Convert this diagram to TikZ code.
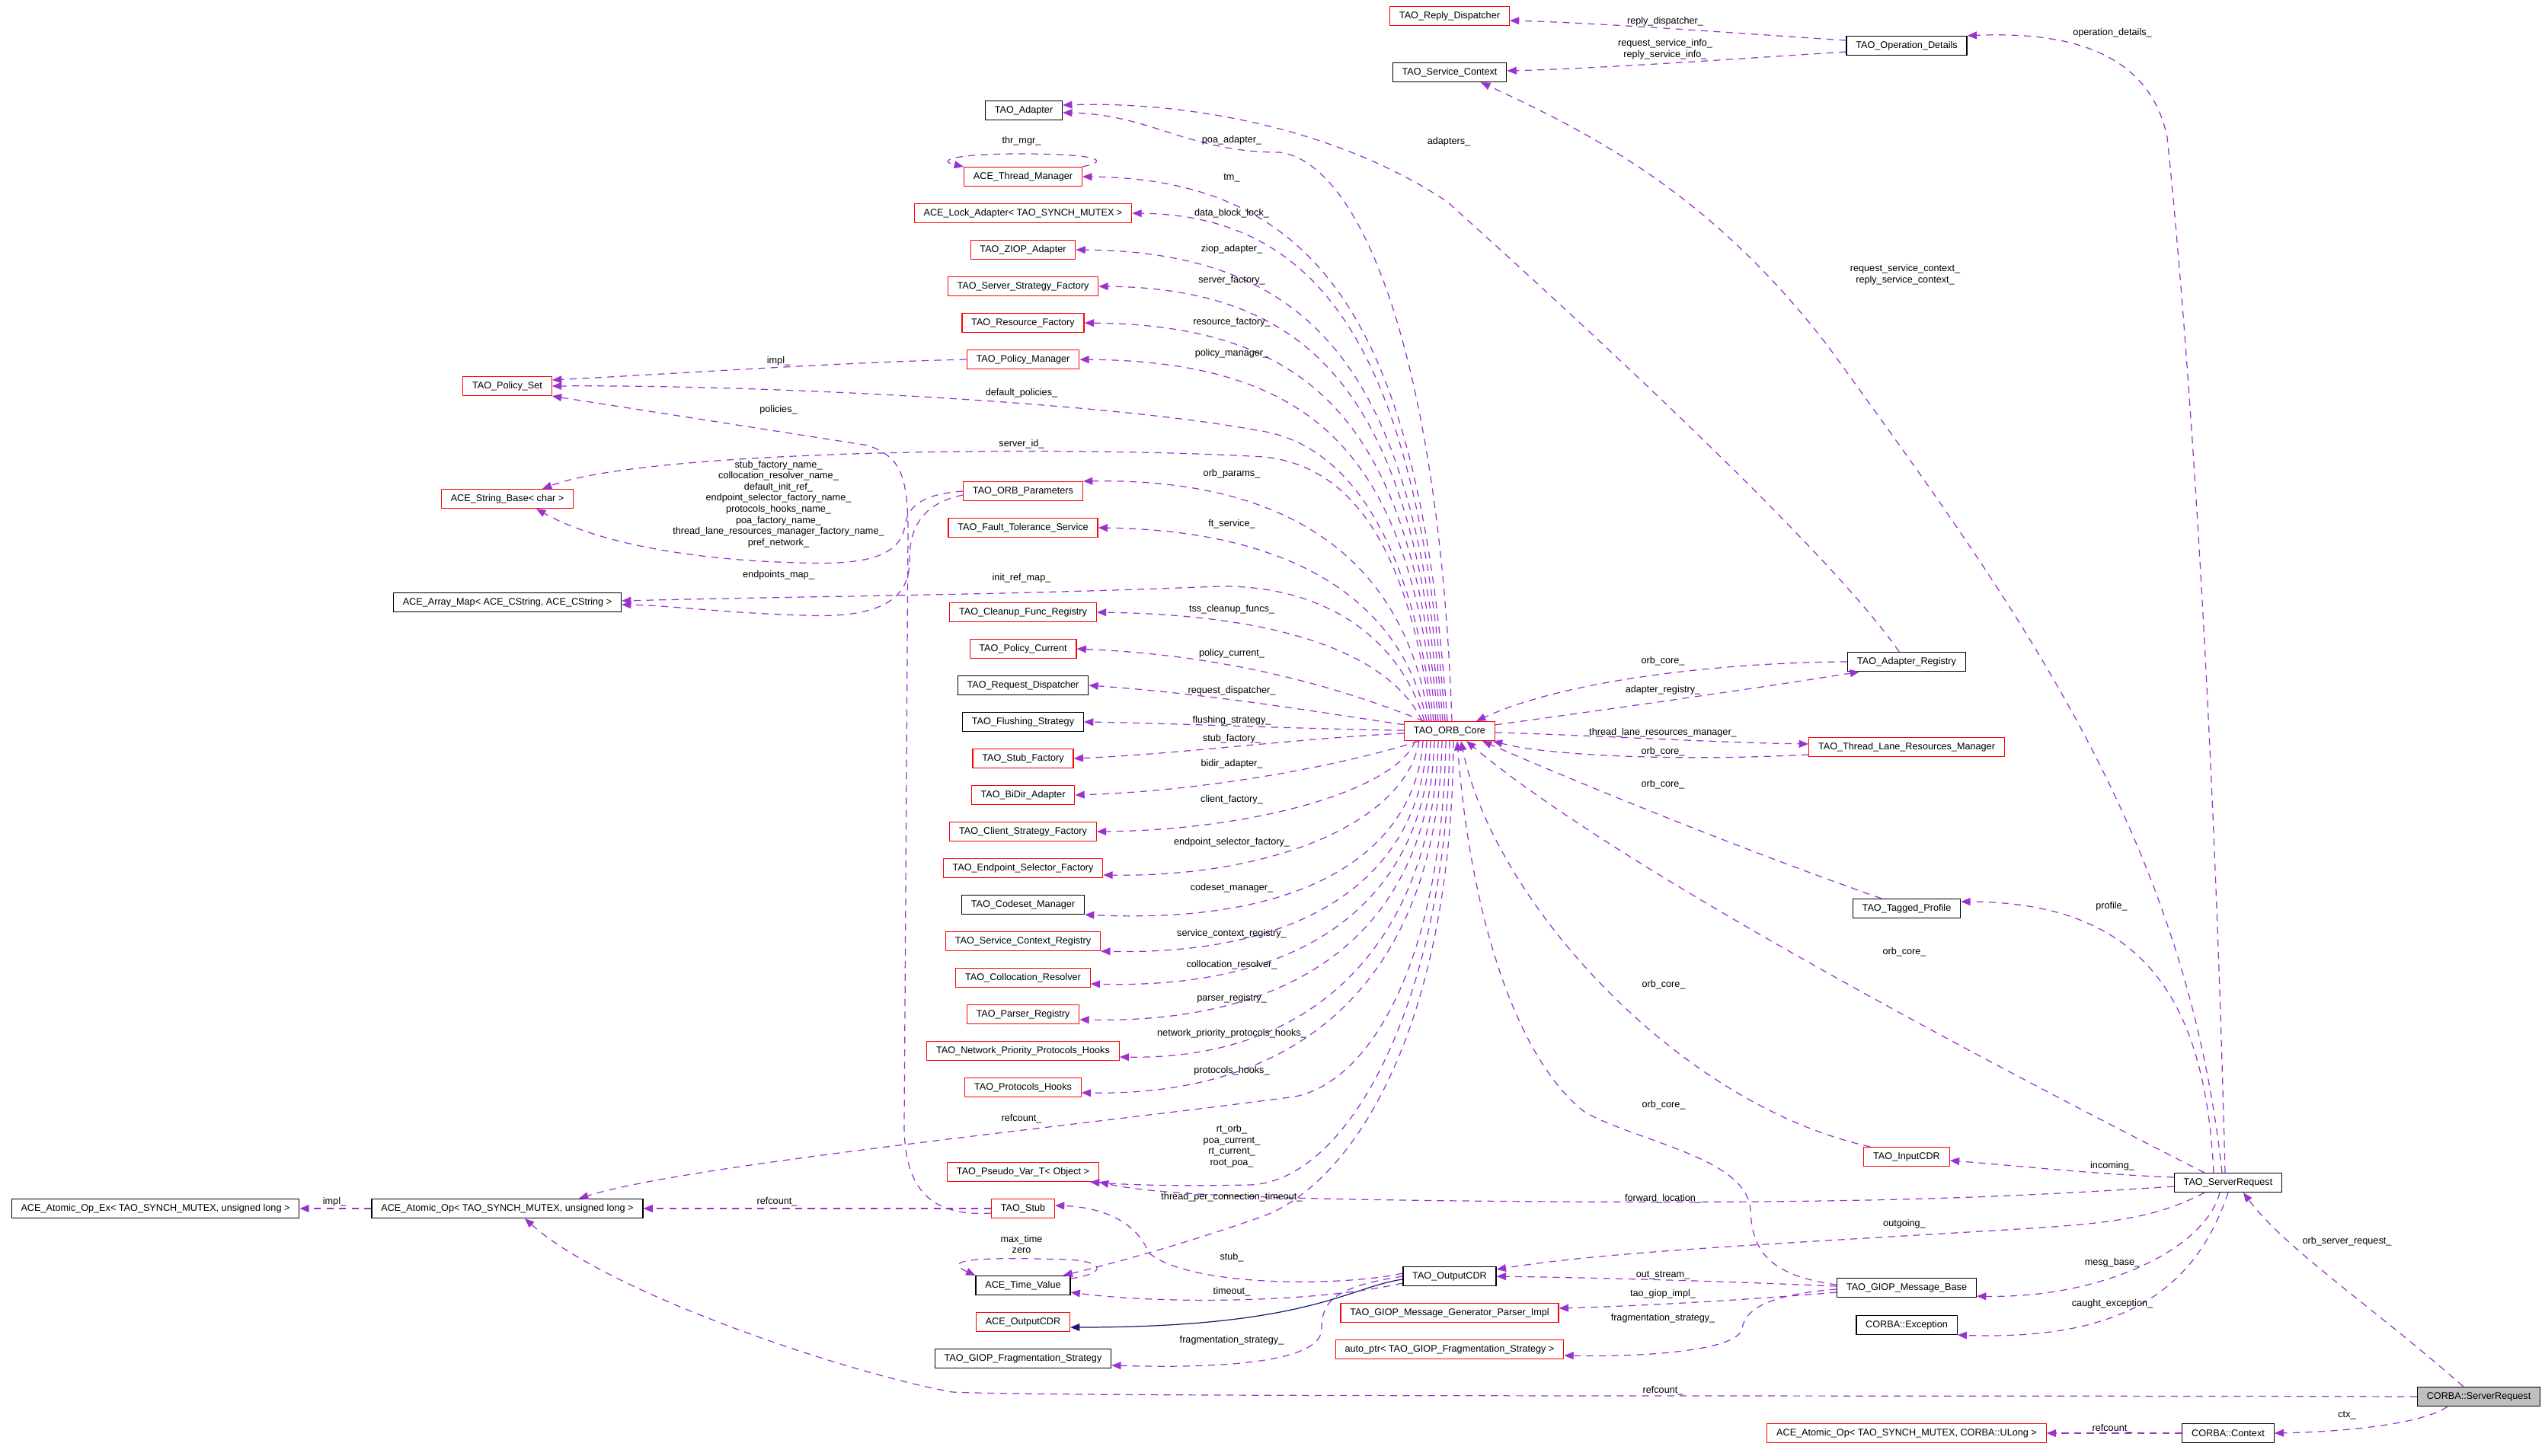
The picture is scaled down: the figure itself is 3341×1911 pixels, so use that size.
\documentclass[tikz,border=0pt]{standalone}
\usepackage{fontspec}
\setmainfont{Liberation Sans}
\usetikzlibrary{arrows.meta,calc}
\definecolor{DoxPurple}{HTML}{9A32CD}
\definecolor{DoxRed}{HTML}{FF0000}
\definecolor{DoxBlue}{HTML}{191970}
\definecolor{DoxGray}{HTML}{BFBFBF}
\tikzset{
 cls/.style={draw=black,fill=white,line width=0.35pt,font=\fontsize{3.6}{4.15}\selectfont,
   inner xsep=3.5pt,inner ysep=0pt,minimum height=0.25cm},
 redcls/.style={cls,draw=DoxRed},
 rootcls/.style={cls,fill=DoxGray},
 dep/.style={draw=DoxPurple,line width=0.35pt,dash pattern=on 2.6pt off 2.1pt,
   -{Triangle[length=3.5pt,width=2.8pt]}},
 inh/.style={draw=DoxBlue,line width=0.35pt,-{Triangle[length=3.5pt,width=2.8pt]}},
 lbl/.style={font=\fontsize{3.6}{4.15}\selectfont,inner sep=0pt,align=center}
}
\begin{document}
\begin{tikzpicture}[x=0.01cm,y=-0.01cm]
\useasboundingbox (0,0) rectangle (3341,1911);
% classes
\node[redcls] (replydisp) at (1903,21) {TAO\_Reply\_Dispatcher};
\node[cls] (svcctx) at (1903,95) {TAO\_Service\_Context};
\node[cls] (opdet) at (2503,60) {TAO\_Operation\_Details};
\node[cls] (adapter) at (1344,145) {TAO\_Adapter};
\node[redcls] (thrmgr) at (1343,232) {ACE\_Thread\_Manager};
\node[redcls] (lockadp) at (1343,280) {ACE\_Lock\_Adapter< TAO\_SYNCH\_MUTEX >};
\node[redcls] (ziop) at (1343,328) {TAO\_ZIOP\_Adapter};
\node[redcls] (ssfact) at (1343,376) {TAO\_Server\_Strategy\_Factory};
\node[redcls] (rfact) at (1343,424) {TAO\_Resource\_Factory};
\node[redcls] (polmgr) at (1343,472) {TAO\_Policy\_Manager};
\node[redcls] (polset) at (666,507) {TAO\_Policy\_Set};
\node[redcls] (orbparams) at (1343,645) {TAO\_ORB\_Parameters};
\node[redcls] (strbase) at (666,655) {ACE\_String\_Base< char >};
\node[redcls] (ftsvc) at (1343,693) {TAO\_Fault\_Tolerance\_Service};
\node[cls] (arrmap) at (666,791) {ACE\_Array\_Map< ACE\_CString, ACE\_CString >};
\node[redcls] (cleanup) at (1343,804) {TAO\_Cleanup\_Func\_Registry};
\node[redcls] (polcur) at (1343,852) {TAO\_Policy\_Current};
\node[cls] (reqdisp) at (1343,900) {TAO\_Request\_Dispatcher};
\node[cls] (flush) at (1343,948) {TAO\_Flushing\_Strategy};
\node[redcls] (stubfact) at (1343,996) {TAO\_Stub\_Factory};
\node[redcls] (bidir) at (1343,1044) {TAO\_BiDir\_Adapter};
\node[redcls] (csfact) at (1343,1092) {TAO\_Client\_Strategy\_Factory};
\node[redcls] (esfact) at (1343,1140) {TAO\_Endpoint\_Selector\_Factory};
\node[cls] (codeset) at (1343,1188) {TAO\_Codeset\_Manager};
\node[redcls] (screg) at (1343,1236) {TAO\_Service\_Context\_Registry};
\node[redcls] (colloc) at (1343,1284) {TAO\_Collocation\_Resolver};
\node[redcls] (parser) at (1343,1332) {TAO\_Parser\_Registry};
\node[redcls] (npph) at (1343,1380) {TAO\_Network\_Priority\_Protocols\_Hooks};
\node[redcls] (phooks) at (1343,1428) {TAO\_Protocols\_Hooks};
\node[redcls] (pseudo) at (1343,1539) {TAO\_Pseudo\_Var\_T< Object >};
\node[redcls] (stub) at (1343,1587) {TAO\_Stub};
\node[cls] (timeval) at (1343,1688) {ACE\_Time\_Value};
\node[redcls] (aceout) at (1343,1736) {ACE\_OutputCDR};
\node[cls] (fragstrat) at (1343,1784) {TAO\_GIOP\_Fragmentation\_Strategy};
\node[cls] (atomicex) at (204,1587) {ACE\_Atomic\_Op\_Ex< TAO\_SYNCH\_MUTEX, unsigned long >};
\node[cls] (atomic) at (666,1587) {ACE\_Atomic\_Op< TAO\_SYNCH\_MUTEX, unsigned long >};
\node[redcls] (core) at (1903,960) {TAO\_ORB\_Core};
\node[cls] (outcdr) at (1903,1676) {TAO\_OutputCDR};
\node[redcls] (genparser) at (1903,1724) {TAO\_GIOP\_Message\_Generator\_Parser\_Impl};
\node[redcls] (autoptr) at (1903,1772) {auto\_ptr< TAO\_GIOP\_Fragmentation\_Strategy >};
\node[cls] (adreg) at (2503,869) {TAO\_Adapter\_Registry};
\node[redcls] (tlrm) at (2503,981) {TAO\_Thread\_Lane\_Resources\_Manager};
\node[cls] (tagged) at (2503,1193) {TAO\_Tagged\_Profile};
\node[redcls] (inputcdr) at (2503,1519) {TAO\_InputCDR};
\node[cls] (msgbase) at (2503,1691) {TAO\_GIOP\_Message\_Base};
\node[cls] (corbaex) at (2503,1740) {CORBA::Exception};
\node[redcls] (atomicul) at (2503,1882) {ACE\_Atomic\_Op< TAO\_SYNCH\_MUTEX, CORBA::ULong >};
\node[cls] (srvreq) at (2925,1553) {TAO\_ServerRequest};
\node[cls] (ctx) at (2925,1882) {CORBA::Context};
\node[rootcls] (root) at (3254,1834) {CORBA::ServerRequest};

% TAO_ORB_Core members, upper fan
\draw[dep] ($(core.north)+(3,0)$) .. controls (1890,480) and (1790,215) .. (1680,200) .. controls (1560,200) and (1510,150) .. ($(adapter.east)+(0,3)$);
\draw[dep] ($(core.north)+(-3,0)$) .. controls (1865,447) and (1745,235) .. (thrmgr.east);
\draw[dep] ($(core.north)+(-6,0)$) .. controls (1862,480) and (1745,283) .. (lockadp.east);
\draw[dep] ($(core.north)+(-9,0)$) .. controls (1859,514) and (1745,331) .. (ziop.east);
\draw[dep] ($(core.north)+(-12,0)$) .. controls (1856,548) and (1745,379) .. (ssfact.east);
\draw[dep] ($(core.north)+(-15,0)$) .. controls (1853,581) and (1745,427) .. (rfact.east);
\draw[dep] ($(core.north)+(-18,0)$) .. controls (1850,615) and (1745,475) .. (polmgr.east);
\draw[dep] ($(core.north)+(-21,0)$) .. controls (1850,690) and (1760,580) .. (1650,565) .. controls (1450,528) and (1000,505) .. (polset.east);
\draw[dep] ($(core.north)+(-24,0)$) .. controls (1848,710) and (1770,612) .. (1660,600) .. controls (1400,585) and (850,590) .. ($(strbase.north)+(46,0)$);
\draw[dep] ($(core.north)+(-27,0)$) .. controls (1845,740) and (1700,628) .. (orbparams.north east);
\draw[dep] ($(core.north)+(-30,0)$) .. controls (1840,790) and (1700,697) .. (ftsvc.east);
\draw[dep] ($(core.north)+(-33,0)$) .. controls (1835,830) and (1730,768) .. (1600,770) .. controls (1300,782) and (1100,782) .. ($(arrmap.east)+(0,-2)$);
\draw[dep] ($(core.north)+(-36,0)$) .. controls (1830,870) and (1710,808) .. (cleanup.east);
% near level
\draw[dep] (core) .. controls (1800,920) and (1650,862) .. (polcur.east);
\draw[dep] (core) .. controls (1760,940) and (1600,912) .. (reqdisp.east);
\draw[dep] (core) .. controls (1700,957) and (1550,950) .. (flush.east);
\draw[dep] (core) .. controls (1700,970) and (1550,990) .. (stubfact.east);
\draw[dep] (core) .. controls (1780,1000) and (1600,1038) .. (bidir.east);
% lower fan
\draw[dep] ($(core.south)+(-45,0)$) .. controls (1830,1040) and (1640,1090) .. (csfact.east);
\draw[dep] ($(core.south)+(-40,0)$) .. controls (1845,1080) and (1670,1152) .. ($(esfact.east)+(0,9)$);
\draw[dep] ($(core.south)+(-35,0)$) .. controls (1858,1115) and (1720,1215) .. (codeset.south east);
\draw[dep] ($(core.south)+(-30,0)$) .. controls (1865,1140) and (1730,1255) .. (screg.south east);
\draw[dep] ($(core.south)+(-25,0)$) .. controls (1870,1165) and (1735,1300) .. ($(colloc.east)+(0,8)$);
\draw[dep] ($(core.south)+(-20,0)$) .. controls (1876,1190) and (1740,1345) .. ($(parser.east)+(0,7)$);
\draw[dep] ($(core.south)+(-15,0)$) .. controls (1882,1215) and (1745,1392) .. ($(npph.east)+(0,8)$);
\draw[dep] ($(core.south)+(-10,0)$) .. controls (1888,1240) and (1750,1440) .. ($(phooks.east)+(0,7)$);
\draw[dep] ($(core.south)+(-5,0)$) .. controls (1893,1260) and (1800,1420) .. (1700,1440) .. controls (1400,1480) and (900,1530) .. ($(atomic.north)+(94,0)$);
\draw[dep] (core.south) .. controls (1900,1300) and (1775,1552) .. (1640,1556) .. controls (1550,1558) and (1480,1556) .. ($(pseudo.south east)+(-12,0)$);
\draw[dep] ($(core.south)+(5,0)$) .. controls (1906,1350) and (1775,1560) .. (1650,1600) .. controls (1550,1635) and (1450,1662) .. ($(timeval.north east)+(-10,0)$);
% right of core
\draw[dep] (core) .. controls (2050,940) and (2300,905) .. ($(adreg.south west)+(16,0)$);
\draw[dep] (core) .. controls (2100,966) and (2250,975) .. ($(tlrm.west)+(0,-4)$);

% links back to TAO_ORB_Core
\draw[dep] (adreg.west) .. controls (2250,870) and (2050,895) .. ($(core.north)+(35,0)$);
\draw[dep] ($(tlrm.west)+(0,10)$) .. controls (2200,1000) and (2030,992) .. ($(core.south east)+(-3,0)$);
\draw[dep] ($(tagged.north west)+(38,0)$) .. controls (2300,1120) and (2100,1040) .. ($(core.south)+(43,0)$);
\draw[dep] ($(srvreq.north west)+(40,0)$) .. controls (2500,1340) and (2100,1120) .. ($(core.south)+(22,0)$);
\draw[dep] ($(inputcdr.north west)+(9,0)$) .. controls (2200,1450) and (1960,1180) .. ($(core.south)+(15,0)$);
\draw[dep] ($(msgbase.west)+(0,-4)$) .. controls (2320,1675) and (2300,1640) .. (2298,1590) .. controls (2295,1520) and (2150,1500) .. (2080,1460) .. controls (1990,1390) and (1930,1200) .. ($(core.south)+(10,0)$);

% other members
\draw[dep] (thrmgr.north east) .. controls (1460,211) and (1440,202) .. (1340,202) .. controls (1250,202) and (1230,211) .. (thrmgr.north west);
\draw[dep] (polmgr.west) .. controls (1100,476) and (900,490) .. ($(polset.east)+(0,-8)$);
\draw[dep] (orbparams.west) .. controls (1220,648) and (1192,660) .. (1188,690) .. controls (1180,745) and (1100,742) .. (1000,737) .. controls (850,728) and (760,700) .. ($(strbase.south)+(38,0)$);
\draw[dep] ($(orbparams.west)+(0,5)$) .. controls (1205,662) and (1194,700) .. (1194,735) .. controls (1195,790) and (1150,812) .. (1056,808) .. controls (950,805) and (880,795) .. ($(arrmap.east)+(0,3)$);
\draw[dep] ($(stub.west)+(0,6)$) .. controls (1220,1598) and (1188,1560) .. (1187,1480) -- (1192,700) .. controls (1192,620) and (1180,600) .. (1140,585) -- (polset.south east);
\draw[dep] (stub.west) -- (atomic.east);
\draw[dep] (atomic) -- (atomicex);
\draw[dep] ($(timeval.east)+(0,-9)$) .. controls (1455,1672) and (1450,1656) .. (1400,1654) .. controls (1300,1651) and (1230,1652) .. (timeval.north west);
\draw[inh] ($(outcdr.west)+(0,4)$) .. controls (1770,1690) and (1720,1743) .. ($(aceout.east)+(0,7)$);
\draw[dep] ($(outcdr.west)+(0,-4)$) .. controls (1760,1690) and (1560,1690) .. (1508,1645) .. controls (1490,1600) and (1440,1585) .. ($(stub.east)+(0,-4)$);
\draw[dep] ($(outcdr.west)+(0,9)$) .. controls (1720,1712) and (1520,1712) .. ($(timeval.east)+(0,9)$);
\draw[dep] (outcdr.west) .. controls (1750,1690) and (1735,1710) .. (1735,1745) .. controls (1735,1790) and (1600,1797) .. ($(fragstrat.east)+(0,9)$);
\draw[dep] ($(adreg.north west)+(68,0)$) .. controls (2400,720) and (2050,400) .. (1900,265) .. controls (1750,165) and (1550,133) .. ($(adapter.east)+(0,-7)$);
\draw[dep] ($(opdet.west)+(0,-7)$) .. controls (2300,45) and (2100,30) .. ($(replydisp.east)+(0,6)$);
\draw[dep] ($(opdet.west)+(0,8)$) .. controls (2300,76) and (2100,90) .. ($(svcctx.east)+(0,-2)$);
\draw[dep] ($(msgbase.west)+(0,-2)$) .. controls (2250,1682) and (2100,1678) .. (outcdr.east);
\draw[dep] ($(msgbase.west)+(0,6)$) .. controls (2280,1708) and (2150,1715) .. ($(genparser.east)+(0,-6)$);
\draw[dep] ($(msgbase.west)+(0,2)$) .. controls (2320,1700) and (2290,1720) .. (2287,1745) .. controls (2280,1775) and (2150,1782) .. ($(autoptr.east)+(0,8)$);

% TAO_ServerRequest members
\draw[dep] ($(srvreq.north)+(-4,0)$) .. controls (2905,900) and (2870,420) .. (2845,180) .. controls (2820,60) and (2700,42) .. (opdet.north east);
\draw[dep] ($(srvreq.north)+(-8,0)$) .. controls (2870,1100) and (2650,800) .. (2400,455) .. controls (2250,260) and (2100,180) .. ($(svcctx.south)+(41,0)$);
\draw[dep] ($(srvreq.north)+(-19,0)$) .. controls (2895,1320) and (2820,1185) .. ($(tagged.east)+(0,-9)$);
\draw[dep] ($(srvreq.west)+(0,-7)$) .. controls (2750,1542) and (2640,1530) .. ($(inputcdr.east)+(0,5)$);
\draw[dep] ($(srvreq.west)+(0,5)$) .. controls (2600,1575) and (2400,1580) .. (2050,1578) .. controls (1700,1576) and (1520,1570) .. (pseudo.south east);
\draw[dep] ($(srvreq.south west)+(40,0)$) .. controls (2820,1605) and (2750,1608) .. (2600,1617) .. controls (2300,1635) and (2100,1645) .. ($(outcdr.east)+(0,-9)$);
\draw[dep] ($(srvreq.south)+(-11,0)$) .. controls (2895,1640) and (2760,1705) .. ($(msgbase.south east)+(0,-2)$);
\draw[dep] (srvreq.south) .. controls (2880,1700) and (2780,1760) .. (corbaex.south east);

% CORBA::ServerRequest members
\draw[dep] ($(root.north west)+(61,0)$) .. controls (3120,1720) and (3000,1640) .. ($(srvreq.south)+(20,0)$);
\draw[dep] (root.west) .. controls (2500,1832) and (1400,1835) .. (1250,1828) .. controls (1120,1805) and (800,1700) .. ($(atomic.south)+(23,0)$);
\draw[dep] ($(root.south west)+(40,0)$) .. controls (3180,1870) and (3080,1880) .. (ctx.east);
\draw[dep] (ctx) -- (atomicul);

% labels
\node[lbl] (l-rdisp) at (2186,28) {reply\_dispatcher\_};
\node[lbl] (l-rsinfo) at (2186,65) {request\_service\_info\_\\reply\_service\_info\_};
\node[lbl] (l-opdet) at (2773,43) {operation\_details\_};
\node[lbl] (l-adapters) at (1902,186) {adapters\_};
\node[lbl] (l-rsctx) at (2501,361) {request\_service\_context\_\\reply\_service\_context\_};
\node[lbl] (l-thrmgr) at (1341,185) {thr\_mgr\_};
\node[lbl] (l-poa) at (1617,184) {poa\_adapter\_};
\node[lbl] (l-tm) at (1617,234) {tm\_};
\node[lbl] (l-dbl) at (1617,280) {data\_block\_lock\_};
\node[lbl] (l-ziop) at (1617,327) {ziop\_adapter\_};
\node[lbl] (l-sfact) at (1617,368) {server\_factory\_};
\node[lbl] (l-rfact) at (1617,423) {resource\_factory\_};
\node[lbl] (l-pmgr) at (1617,464) {policy\_manager\_};
\node[lbl] (l-pimpl) at (1022,474) {impl\_};
\node[lbl] (l-defpol) at (1341,516) {default\_policies\_};
\node[lbl] (l-policies) at (1022,538) {policies\_};
\node[lbl] (l-srvid) at (1341,583) {server\_id\_};
\node[lbl] (l-oparams) at (1617,622) {orb\_params\_};
\node[lbl] (l-names) at (1022,662) {stub\_factory\_name\_\\collocation\_resolver\_name\_\\default\_init\_ref\_\\endpoint\_selector\_factory\_name\_\\protocols\_hooks\_name\_\\poa\_factory\_name\_\\thread\_lane\_resources\_manager\_factory\_name\_\\pref\_network\_};
\node[lbl] (l-ft) at (1617,688) {ft\_service\_};
\node[lbl] (l-epmap) at (1022,755) {endpoints\_map\_};
\node[lbl] (l-irmap) at (1341,759) {init\_ref\_map\_};
\node[lbl] (l-tss) at (1617,800) {tss\_cleanup\_funcs\_};
\node[lbl] (l-pcur) at (1617,858) {policy\_current\_};
\node[lbl] (l-rdsp) at (1617,907) {request\_dispatcher\_};
\node[lbl] (l-flush) at (1617,946) {flushing\_strategy\_};
\node[lbl] (l-stubf) at (1617,970) {stub\_factory\_};
\node[lbl] (l-bidir) at (1617,1003) {bidir\_adapter\_};
\node[lbl] (l-cfact) at (1617,1050) {client\_factory\_};
\node[lbl] (l-esf) at (1617,1106) {endpoint\_selector\_factory\_};
\node[lbl] (l-cset) at (1617,1166) {codeset\_manager\_};
\node[lbl] (l-scr) at (1617,1226) {service\_context\_registry\_};
\node[lbl] (l-coll) at (1617,1267) {collocation\_resolver\_};
\node[lbl] (l-preg) at (1617,1311) {parser\_registry\_};
\node[lbl] (l-npph) at (1617,1357) {network\_priority\_protocols\_hooks\_};
\node[lbl] (l-phk) at (1617,1406) {protocols\_hooks\_};
\node[lbl] (l-coreref) at (1341,1469) {refcount\_};
\node[lbl] (l-rtorb) at (1617,1505) {rt\_orb\_\\poa\_current\_\\rt\_current\_\\root\_poa\_};
\node[lbl] (l-tpct) at (1617,1572) {thread\_per\_connection\_timeout\_};
\node[lbl] (l-aimpl) at (439,1578) {impl\_};
\node[lbl] (l-stubref) at (1020,1578) {refcount\_};
\node[lbl] (l-maxt) at (1341,1634) {max\_time\\zero};
\node[lbl] (l-stub) at (1617,1651) {stub\_};
\node[lbl] (l-tout) at (1617,1696) {timeout\_};
\node[lbl] (l-fstr) at (1617,1760) {fragmentation\_strategy\_};
\node[lbl] (l-oc1) at (2183,868) {orb\_core\_};
\node[lbl] (l-areg) at (2183,906) {adapter\_registry\_};
\node[lbl] (l-tlrm) at (2183,962) {thread\_lane\_resources\_manager\_};
\node[lbl] (l-oc2) at (2183,987) {orb\_core\_};
\node[lbl] (l-oc3) at (2183,1030) {orb\_core\_};
\node[lbl] (l-profile) at (2772,1190) {profile\_};
\node[lbl] (l-oc4) at (2500,1250) {orb\_core\_};
\node[lbl] (l-oc5) at (2184,1293) {orb\_core\_};
\node[lbl] (l-oc6) at (2184,1451) {orb\_core\_};
\node[lbl] (l-incoming) at (2773,1531) {incoming\_};
\node[lbl] (l-fwd) at (2183,1574) {forward\_location\_};
\node[lbl] (l-outgoing) at (2500,1607) {outgoing\_};
\node[lbl] (l-osr) at (3081,1630) {orb\_server\_request\_};
\node[lbl] (l-mbase) at (2773,1658) {mesg\_base\_};
\node[lbl] (l-ostream) at (2183,1675) {out\_stream\_};
\node[lbl] (l-gimpl) at (2183,1699) {tao\_giop\_impl\_};
\node[lbl] (l-cexc) at (2773,1712) {caught\_exception\_};
\node[lbl] (l-fstr2) at (2183,1731) {fragmentation\_strategy\_};
\node[lbl] (l-rootref) at (2183,1826) {refcount\_};
\node[lbl] (l-ctx) at (3081,1859) {ctx\_};
\node[lbl] (l-ctxref) at (2773,1876) {refcount\_};
\end{tikzpicture}
\end{document}
